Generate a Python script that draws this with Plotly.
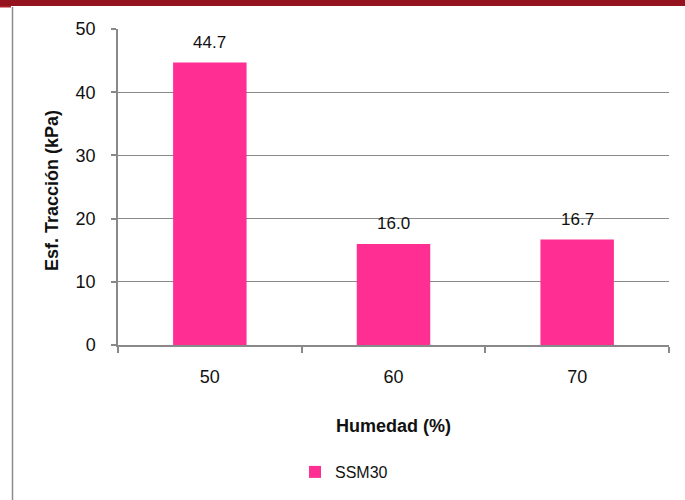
import plotly.graph_objects as go

# Tensile strength vs. moisture content
humedad = ["50", "60", "70"]
esf_traccion = [44.7, 16.0, 16.7]
serie = "SSM30"

y_ticks = [0, 10, 20, 30, 40, 50]

BAR_COLOR = "#FF2E93"
AXIS_GRAY = "#898989"
TEXT = "#111111"
FONT = "Liberation Sans, Arial, sans-serif"

W, H = 685, 500
L, R, T, B = 118, 16, 29, 155
pw, ph = W - L - R, H - T - B


def px_x(p):
    return (p - L) / pw


def px_y(p):
    return (H - B - p) / ph


fig = go.Figure()
fig.add_trace(go.Bar(
    x=humedad,
    y=esf_traccion,
    name=serie,
    marker=dict(color=BAR_COLOR, line=dict(width=0)),
    showlegend=True,
))

# Value labels above each bar (category axis positions are indices)
annotations = [
    dict(x=i, y=v, xref="x", yref="y", text=f"{v:.1f}", showarrow=False,
         yanchor="middle", yshift=20, font=dict(size=17, color=TEXT, family=FONT))
    for i, v in enumerate(esf_traccion)
]

# Axis titles
annotations.append(dict(
    x=px_x(52), y=px_y(191), xref="paper", yref="paper", text="<b>Esf. Tracción (kPa)</b>",
    textangle=-90, showarrow=False, xanchor="center", yanchor="middle",
    font=dict(size=18, color=TEXT, family=FONT)))
annotations.append(dict(
    x=0.5, y=px_y(426), xref="paper", yref="paper", text="<b>Humedad (%)</b>",
    showarrow=False, xanchor="center", yanchor="middle",
    font=dict(size=18, color=TEXT, family=FONT)))

shapes = [
    # dark red band across the top of the page
    dict(type="rect", xref="paper", yref="paper",
         x0=px_x(0), x1=px_x(W), y0=px_y(6), y1=px_y(0),
         fillcolor="#95121F", line=dict(width=0), layer="above"),
    dict(type="rect", xref="paper", yref="paper",
         x0=px_x(0), x1=px_x(11), y0=px_y(7.5), y1=px_y(6),
         fillcolor="#B0202A", line=dict(width=0), layer="above"),
    # thin frame line on the left
    dict(type="line", xref="paper", yref="paper",
         x0=px_x(12.5), x1=px_x(12.5), y0=px_y(H), y1=px_y(7),
         line=dict(color="#8C8C8C", width=1.5)),
]

fig.update_layout(
    width=W, height=H,
    margin=dict(l=L, r=R, t=T, b=B, autoexpand=False),
    paper_bgcolor="white",
    plot_bgcolor="white",
    font=dict(family=FONT, size=17, color=TEXT),
    bargap=0.6,
    showlegend=True,
    legend=dict(
        orientation="h", x=px_x(295), y=px_y(472), xanchor="left", yanchor="middle",
        font=dict(size=16, color=TEXT, family=FONT),
        bgcolor="rgba(0,0,0,0)", itemwidth=30,
    ),
    annotations=annotations,
    shapes=shapes,
    xaxis=dict(
        type="category",
        categoryorder="array", categoryarray=humedad,
        range=[-0.5, len(humedad) - 0.5],
        showline=True, linecolor=AXIS_GRAY, linewidth=1.5,
        ticks="outside", ticklen=6, tickcolor=AXIS_GRAY, tickwidth=1.5,
        tickson="boundaries",
        tickangle=0,
        showgrid=False, zeroline=False,
        ticklabelstandoff=15,
        tickfont=dict(size=18, color=TEXT, family=FONT),
    ),
    yaxis=dict(
        range=[0, 50],
        tickvals=y_ticks,
        showline=True, linecolor=AXIS_GRAY, linewidth=1.5,
        ticks="outside", ticklen=5, tickcolor=AXIS_GRAY, tickwidth=1.5,
        showgrid=True, gridcolor=AXIS_GRAY, gridwidth=1.2,
        zeroline=False,
        ticklabelstandoff=12,
        tickfont=dict(size=18, color=TEXT, family=FONT),
    ),
)

fig.write_html("out.html")
